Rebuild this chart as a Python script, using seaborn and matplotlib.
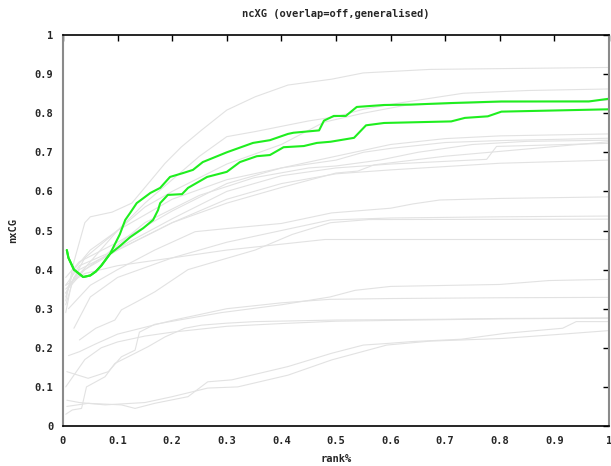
import matplotlib
matplotlib.use("Agg")
import matplotlib.pyplot as plt
import seaborn as sns
import pandas as pd

# ---------------- data ----------------
title = "ncXG (overlap=off,generalised)"
x_label = "rank%"
y_label = "nxCG"
tick_values = [0, 0.1, 0.2, 0.3, 0.4, 0.5, 0.6, 0.7, 0.8, 0.9, 1]
tick_labels = ["0", "0.1", "0.2", "0.3", "0.4", "0.5", "0.6", "0.7", "0.8", "0.9", "1"]

# highlighted runs (green)
green_a_x = [0.007, 0.01, 0.02, 0.037, 0.05, 0.06, 0.07, 0.086, 0.104, 0.114, 0.123, 0.135, 0.16,
             0.178, 0.196, 0.22, 0.238, 0.256, 0.30, 0.348, 0.379, 0.412, 0.422, 0.469, 0.478,
             0.496, 0.518, 0.538, 0.588, 0.637, 0.711, 0.803, 0.963, 1.0]
green_a_y = [0.45, 0.43, 0.40, 0.381, 0.385, 0.395, 0.41, 0.44, 0.49, 0.527, 0.545, 0.57, 0.596,
             0.609, 0.637, 0.647, 0.655, 0.675, 0.70, 0.724, 0.731, 0.747, 0.75, 0.756, 0.781,
             0.793, 0.793, 0.816, 0.821, 0.822, 0.826, 0.830, 0.830, 0.837]
green_b_x = [0.007, 0.01, 0.02, 0.037, 0.05, 0.06, 0.07, 0.086, 0.104, 0.123, 0.147, 0.165, 0.174,
             0.178, 0.192, 0.218, 0.229, 0.264, 0.30, 0.324, 0.355, 0.379, 0.404, 0.441, 0.465,
             0.49, 0.533, 0.555, 0.588, 0.711, 0.736, 0.778, 0.803, 1.0]
green_b_y = [0.45, 0.43, 0.40, 0.381, 0.385, 0.395, 0.41, 0.44, 0.46, 0.483, 0.506, 0.527, 0.552,
             0.570, 0.591, 0.593, 0.609, 0.637, 0.65, 0.675, 0.69, 0.693, 0.713, 0.716, 0.724,
             0.727, 0.737, 0.769, 0.775, 0.779, 0.788, 0.792, 0.804, 0.81]

# background runs (grey)
g1_x = [0.005, 0.02, 0.04, 0.05, 0.09, 0.126, 0.156, 0.187, 0.217, 0.254, 0.30, 0.352, 0.412, 0.492, 0.55, 0.672, 0.8, 1.0]
g1_y = [0.32, 0.42, 0.52, 0.535, 0.547, 0.57, 0.62, 0.672, 0.714, 0.757, 0.808, 0.842, 0.872, 0.887, 0.903, 0.912, 0.914, 0.917]
g2_x = [0.005, 0.05, 0.1, 0.15, 0.2, 0.25, 0.3, 0.352, 0.449, 0.5, 0.55, 0.611, 0.733, 0.85, 1.0]
g2_y = [0.35, 0.42, 0.5, 0.57, 0.63, 0.69, 0.74, 0.753, 0.78, 0.791, 0.81, 0.825, 0.851, 0.858, 0.862]
g3_x = [0.005, 0.04, 0.1, 0.15, 0.2, 0.3, 0.4, 0.478, 0.55, 0.63, 0.8, 1.0]
g3_y = [0.34, 0.43, 0.5, 0.56, 0.6, 0.67, 0.72, 0.777, 0.8, 0.821, 0.828, 0.833]
m1_x = [0.005, 0.03, 0.1, 0.2, 0.3, 0.4, 0.5, 0.6, 0.7, 0.8, 1.0]
m1_y = [0.38, 0.42, 0.47, 0.55, 0.62, 0.66, 0.69, 0.72, 0.735, 0.742, 0.747]
m2_x = [0.005, 0.02, 0.05, 0.1, 0.2, 0.3, 0.4, 0.5, 0.55, 0.6, 0.7, 0.8, 1.0]
m2_y = [0.33, 0.40, 0.45, 0.50, 0.58, 0.63, 0.66, 0.68, 0.70, 0.71, 0.725, 0.73, 0.736]
m3_x = [0.005, 0.03, 0.08, 0.15, 0.25, 0.35, 0.45, 0.5, 0.58, 0.65, 0.75, 0.85, 1.0]
m3_y = [0.36, 0.41, 0.44, 0.52, 0.59, 0.635, 0.66, 0.665, 0.68, 0.70, 0.72, 0.728, 0.731]
m4_x = [0.005, 0.02, 0.06, 0.12, 0.2, 0.3, 0.4, 0.5, 0.6, 0.776, 0.794, 1.0]
m4_y = [0.31, 0.38, 0.42, 0.47, 0.53, 0.60, 0.64, 0.66, 0.67, 0.682, 0.715, 0.723]
m5_x = [0.005, 0.03, 0.1, 0.2, 0.3, 0.4, 0.5, 0.6, 0.8, 1.0]
m5_y = [0.34, 0.40, 0.45, 0.52, 0.58, 0.62, 0.645, 0.655, 0.672, 0.68]
m6_x = [0.005, 0.015, 0.04, 0.1, 0.2, 0.3, 0.4, 0.5, 0.54, 0.57, 0.7, 1.0]
m6_y = [0.29, 0.36, 0.40, 0.45, 0.52, 0.57, 0.61, 0.647, 0.652, 0.668, 0.69, 0.727]
n1_x = [0.01, 0.05, 0.1, 0.168, 0.242, 0.30, 0.40, 0.492, 0.60, 0.641, 0.69, 0.8, 1.0]
n1_y = [0.30, 0.36, 0.40, 0.45, 0.497, 0.505, 0.518, 0.545, 0.557, 0.568, 0.578, 0.582, 0.586]
n2_x = [0.02, 0.05, 0.1, 0.2, 0.3, 0.4, 0.49, 0.6, 0.8, 1.0]
n2_y = [0.25, 0.33, 0.38, 0.43, 0.47, 0.50, 0.527, 0.532, 0.535, 0.537]
n3_x = [0.03, 0.06, 0.095, 0.107, 0.138, 0.168, 0.229, 0.278, 0.352, 0.42, 0.49, 0.56, 1.0]
n3_y = [0.22, 0.25, 0.271, 0.297, 0.32, 0.343, 0.40, 0.42, 0.45, 0.49, 0.52, 0.528, 0.529]
n4_x = [0.005, 0.04, 0.1, 0.2, 0.3, 0.4, 0.48, 1.0]
n4_y = [0.36, 0.39, 0.41, 0.43, 0.45, 0.465, 0.477, 0.477]
p1_x = [0.007, 0.046, 0.083, 0.107, 0.132, 0.14, 0.168, 0.229, 0.29, 0.4, 0.489, 0.535, 0.6, 0.8, 0.89, 1.0]
p1_y = [0.139, 0.122, 0.139, 0.177, 0.194, 0.24, 0.26, 0.275, 0.29, 0.31, 0.33, 0.347, 0.357, 0.362, 0.372, 0.375]
p2_x = [0.01, 0.03, 0.06, 0.1, 0.2, 0.3, 0.4, 0.489, 0.6, 0.8, 1.0]
p2_y = [0.18, 0.19, 0.21, 0.235, 0.27, 0.30, 0.315, 0.324, 0.326, 0.328, 0.329]
l1_x = [0.005, 0.017, 0.034, 0.043, 0.077, 0.095, 0.132, 0.156, 0.187, 0.223, 0.254, 0.30, 0.352, 0.5, 0.7, 0.8, 1.0]
l1_y = [0.03, 0.041, 0.045, 0.10, 0.126, 0.16, 0.186, 0.203, 0.228, 0.25, 0.258, 0.263, 0.267, 0.271, 0.273, 0.275, 0.276]
l2_x = [0.007, 0.046, 0.107, 0.132, 0.168, 0.229, 0.265, 0.309, 0.412, 0.492, 0.55, 0.593, 0.64, 0.73, 0.81, 0.915, 0.94, 1.0]
l2_y = [0.05, 0.058, 0.054, 0.045, 0.058, 0.075, 0.113, 0.118, 0.152, 0.186, 0.207, 0.211, 0.216, 0.222, 0.237, 0.25, 0.267, 0.267]
l3_x = [0.007, 0.03, 0.077, 0.15, 0.2, 0.265, 0.32, 0.412, 0.492, 0.593, 0.672, 0.806, 0.915, 1.0]
l3_y = [0.066, 0.06, 0.054, 0.06, 0.075, 0.097, 0.10, 0.13, 0.169, 0.207, 0.217, 0.224, 0.235, 0.244]
l4_x = [0.005, 0.02, 0.04, 0.07, 0.1, 0.15, 0.2, 0.3, 0.4, 0.5, 0.8, 1.0]
l4_y = [0.10, 0.13, 0.17, 0.20, 0.215, 0.23, 0.24, 0.255, 0.262, 0.268, 0.274, 0.276]

grey_runs = [(g1_x, g1_y), (g2_x, g2_y), (g3_x, g3_y), (m1_x, m1_y), (m2_x, m2_y),
             (m3_x, m3_y), (m4_x, m4_y), (m5_x, m5_y), (m6_x, m6_y), (n1_x, n1_y),
             (n2_x, n2_y), (n3_x, n3_y), (n4_x, n4_y), (p1_x, p1_y), (p2_x, p2_y),
             (l1_x, l1_y), (l2_x, l2_y), (l3_x, l3_y), (l4_x, l4_y)]
green_runs = [(green_a_x, green_a_y), (green_b_x, green_b_y)]

# ---------------- plotting ----------------
sns.set_theme(style="white")
plt.rcParams["font.family"] = ["DejaVu Sans Mono", "DejaVu Sans"]
plt.rcParams["font.weight"] = "bold"

fig = plt.figure(figsize=(6.11, 4.66), dpi=100)
ax = fig.add_axes([63 / 611, 1 - 426 / 466, 546 / 611, 391 / 466])

GREY = "#e2e2e2"
GREEN = "#1fee1f"

for xs, ys in grey_runs:
    df = pd.DataFrame({"x": xs, "y": ys})
    sns.lineplot(data=df, x="x", y="y", color=GREY, linewidth=0.8, sort=False,
                 estimator=None, ax=ax)
for xs, ys in green_runs:
    df = pd.DataFrame({"x": xs, "y": ys})
    sns.lineplot(data=df, x="x", y="y", color=GREEN, linewidth=1.5, sort=False,
                 estimator=None, ax=ax)

ax.set_xlim(0, 1)
ax.set_ylim(0, 1)
ax.set_xticks(tick_values)
ax.set_xticklabels(tick_labels)
ax.set_yticks(tick_values)
ax.set_yticklabels(tick_labels)
ax.tick_params(axis="both", direction="in", length=4, width=1, color="black",
               labelsize=7.5, top=True, right=True, pad=7)
for lab in ax.get_xticklabels() + ax.get_yticklabels():
    lab.set_fontweight("bold")

for side in ["top", "bottom"]:
    ax.spines[side].set_color("black")
    ax.spines[side].set_linewidth(1.2)
for side in ["left", "right"]:
    ax.spines[side].set_color("#8a8a8a")
    ax.spines[side].set_linewidth(1.5)

ax.set_xlabel(x_label, fontsize=7.5, fontweight="bold", labelpad=6)
ax.set_ylabel(y_label, fontsize=7.5, fontweight="bold", labelpad=12)
fig.text(0.5 * (63 + 609) / 611, 1 - 14 / 466, title, ha="center", va="center",
         fontsize=7.5, fontweight="bold")

fig.savefig("out.png", dpi=100)
